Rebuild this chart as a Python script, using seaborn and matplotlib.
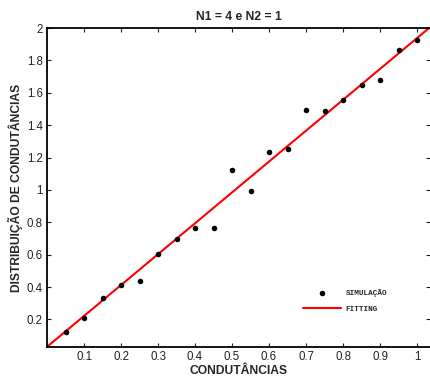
import matplotlib
matplotlib.use("Agg")
import matplotlib.pyplot as plt
import seaborn as sns
import numpy as np
import pandas as pd
from matplotlib.ticker import FuncFormatter

# Data
x_sim = [0.05, 0.10, 0.15, 0.20, 0.25, 0.30, 0.35, 0.40, 0.45, 0.50,
         0.55, 0.60, 0.65, 0.70, 0.75, 0.80, 0.85, 0.90, 0.95, 1.00]
y_sim = [0.12, 0.21, 0.335, 0.41, 0.44, 0.605, 0.695, 0.765, 0.765, 1.125,
         0.995, 1.235, 1.255, 1.495, 1.49, 1.555, 1.645, 1.68, 1.865, 1.925]
fit_slope = 1.907
fit_intercept = 0.031
x_range = [0.0, 1.035]
y_range = [0.03, 2.0]
x_ticks = [0.1, 0.2, 0.3, 0.4, 0.5, 0.6, 0.7, 0.8, 0.9, 1.0]
y_ticks = [0.2, 0.4, 0.6, 0.8, 1.0, 1.2, 1.4, 1.6, 1.8, 2.0]
title = "N1 = 4 e N2 = 1"
xlabel = "CONDUTÂNCIAS"
ylabel = "DISTRIBUIÇÃO DE CONDUTÂNCIAS"
legend_labels = ["SIMULAÇÃO", "FITTING"]

sns.set_theme(style="white")
plt.rcParams['font.family'] = ['Liberation Sans', 'DejaVu Sans']

fig = plt.figure(figsize=(4.31, 3.81), dpi=100)
ax = fig.add_axes([47 / 431, 1 - 347 / 381, 383 / 431, 319 / 381])

df_sim = pd.DataFrame({"x": x_sim, "y": y_sim})
fit_x = np.array(x_range)
df_fit = pd.DataFrame({"x": fit_x, "y": fit_intercept + fit_slope * fit_x})

sns.lineplot(data=df_fit, x="x", y="y", ax=ax, color="#ff0000", linewidth=1.5,
             label=legend_labels[1], zorder=2)
sns.scatterplot(data=df_sim, x="x", y="y", ax=ax, color="black", s=16,
                edgecolor="black", linewidth=0, label=legend_labels[0], zorder=3)

ax.set_xlim(*x_range)
ax.set_ylim(*y_range)
ax.set_xticks(x_ticks)
ax.set_yticks(y_ticks)
fmt = FuncFormatter(lambda v, p: ("%g" % round(v, 2)))
ax.xaxis.set_major_formatter(fmt)
ax.yaxis.set_major_formatter(fmt)

ax.tick_params(direction="in", length=3, width=0.8, colors="#222222",
               labelsize=8.3, top=True, right=True, bottom=True, left=True,
               labelcolor="#222222", pad=3)

for s in ax.spines.values():
    s.set_visible(True)
    s.set_color("black")
    s.set_linewidth(1.3)
ax.spines["right"].set_visible(False)

ax.set_title(title, fontsize=8.7, fontweight="bold", pad=6)
ax.set_xlabel(xlabel, fontsize=8.7, fontweight="bold", labelpad=1)
ax.set_ylabel(ylabel, fontsize=8.7, fontweight="bold", labelpad=3)

handles, labels = ax.get_legend_handles_labels()
order = [labels.index(legend_labels[0]), labels.index(legend_labels[1])]
leg = ax.legend([handles[i] for i in order], [labels[i] for i in order],
                loc="center left", bbox_to_anchor=(0.65, 0.145), frameon=False,
                prop={"family": "Liberation Mono", "weight": "bold", "size": 5.5},
                handlelength=5, handletextpad=0.6, labelspacing=1.1,
                markerscale=1.0)

fig.savefig("out.png", dpi=100)
